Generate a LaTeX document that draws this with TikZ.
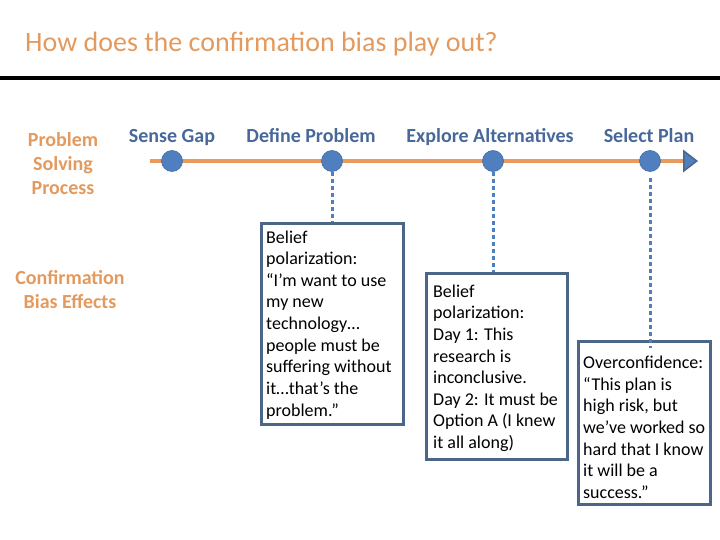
\documentclass[tikz,border=0pt]{standalone}
\usepackage{fontspec}
\setmainfont{Carlito}
\usetikzlibrary{shapes.geometric}
\definecolor{orng}{HTML}{E39A5E}
\definecolor{tlbl}{HTML}{47689A}
\definecolor{dotb}{HTML}{4F7FBF}
\definecolor{boxb}{HTML}{4C6687}
\definecolor{lineo}{HTML}{E99A5C}
\begin{document}
\begin{tikzpicture}[x=1pt,y=-1pt,
  steplbl/.style={font=\fontsize{20}{24}\selectfont\bfseries, text=tlbl, inner sep=0pt, anchor=base},
  sidelbl/.style={font=\fontsize{20}{24}\selectfont\bfseries, text=orng, align=center, inner sep=0pt},
  dotn/.style={circle, fill=dotb, draw=dotb!85!black, line width=0.6pt, minimum size=21pt, inner sep=0pt},
  quotebox/.style={draw=boxb, line width=2.8pt, anchor=north west, inner sep=0pt},
  quotetext/.style={anchor=north west, align=left, inner sep=0pt, font=\fontsize{18}{21.6}\selectfont, text=black},
  conn/.style={draw=dotb, line width=3pt, dash pattern=on 4.5pt off 2.5pt}
]
\useasboundingbox (0,0) rectangle (720,540);
\node[anchor=base west, inner sep=0pt, font=\fontsize{28}{32}\selectfont, text=orng] (title) at (25,52) {How does the confirmation bias play out?};
\draw[line width=4.5pt] (0,78) -- (720,78);
% timeline
\coordinate (tstart) at (150,161);
\coordinate (tend) at (684,161);
\draw[lineo, line width=3.5pt] (tstart) -- (tend);
\node[draw=boxb, fill=dotb, line width=1.5pt, isosceles triangle, isosceles triangle apex angle=75, minimum height=12pt, minimum width=20pt, inner sep=0pt, anchor=west] (arrowhd) at (683,161) {};
\node[dotn] (d1) at (172,161) {};
\node[dotn] (d2) at (332,161) {};
\node[dotn] (d3) at (493,161) {};
\node[dotn] (d4) at (650,161) {};
\node[steplbl] (l1) at (172,142.5) {Sense Gap};
\node[steplbl] (l2) at (311,142.5) {Define Problem};
\node[steplbl] (l3) at (490,142.5) {Explore Alternatives};
\node[steplbl] (l4) at (649,142.5) {Select Plan};
\node[sidelbl] (psp) at (63,164) {Problem\\Solving\\Process};
\node[sidelbl] (cbe) at (70,290) {Confirmation\\Bias Effects};
% boxes
\node[quotebox, minimum width=142pt, minimum height=201pt] (b1) at (260,222) {};
\node[quotetext] (t1) at (266,230.5)
 {Belief\\polarization:\\“I’m want to use\\my new\\technology…\\people must be\\suffering without\\it…that’s the\\problem.”};
\node[quotebox, minimum width=141pt, minimum height=186pt] (b2) at (425,272) {};
\node[quotetext] (t2) at (433,284.5)
 {Belief\\polarization:\\Day 1: This\\research is\\inconclusive.\\Day 2: It must be\\Option A (I knew\\it all along)};
\node[quotebox, minimum width=132pt, minimum height=163pt] (b3) at (577,340) {};
\node[quotetext] (t3) at (583,356)
 {Overconfidence:\\“This plan is\\high risk, but\\we’ve worked so\\hard that I know\\it will be a\\success.”};
% connectors
\draw[conn] (d2.south) -- (b1.north -| d2);
\draw[conn] (d3.south) -- (b2.north -| d3);
\draw[conn] ([yshift=-6pt]d4.south) -- ([yshift=-8pt]b3.north -| d4);
\end{tikzpicture}
\end{document}
